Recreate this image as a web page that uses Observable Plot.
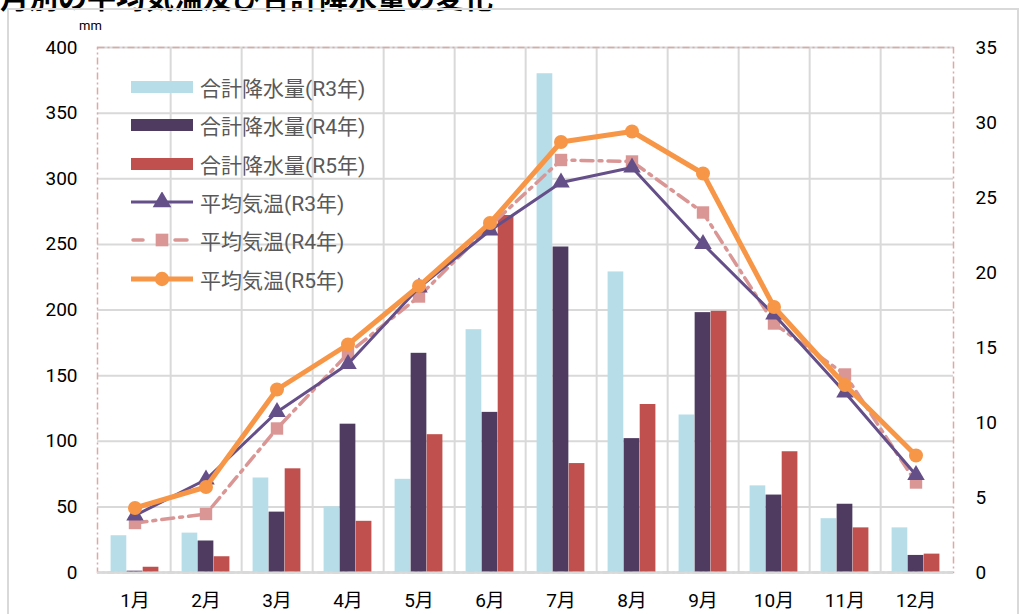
<!DOCTYPE html>
<html><head><meta charset="utf-8">
<script src="https://cdn.jsdelivr.net/npm/d3@7"></script>
<script src="https://cdn.jsdelivr.net/npm/@observablehq/plot@0.6"></script>
<style>
html,body{margin:0;padding:0;background:#fff;width:1023px;height:614px;overflow:hidden;font-family:Roboto,"Noto Sans CJK JP",sans-serif;}
#wrap{position:relative;width:1023px;height:614px;}
#title{position:absolute;left:0;top:-18px;font-size:29px;font-weight:bold;color:#000;white-space:nowrap;font-family:"Noto Sans CJK JP",sans-serif;line-height:1;}
#frame{position:absolute;left:7px;top:8px;width:1012px;height:640px;border:2px solid #d9d9d9;box-sizing:border-box;}
#chart{position:absolute;left:0;top:0;}
#unit{position:absolute;left:79px;top:18px;font-size:13px;line-height:15px;color:#000;}
#legend{position:absolute;left:131px;top:68px;}
.row{display:flex;align-items:center;height:38.3px;}
.row span{margin-left:7px;font-size:21px;color:#595959;font-family:Roboto,"Noto Sans CJK JP",sans-serif;white-space:nowrap;}
</style></head>
<body><div id="wrap">
<div id="title"></div>
<div id="frame"></div>
<div id="chart"></div>
<div id="unit">mm</div>
<div id="legend"></div>
</div>
<script>
const titleText = "月別の平均気温及び合計降水量の変化";
const months = ["1月","2月","3月","4月","5月","6月","7月","8月","9月","10月","11月","12月"];
const rainR3 = [28, 30, 72, 50, 71, 185, 380, 229, 120, 66, 41, 34];
const rainR4 = [1, 24, 46, 113, 167, 122, 248, 102, 198, 59, 52, 13];
const rainR5 = [4, 12, 79, 39, 105, 272, 83, 128, 199, 92, 34, 14];
const tempR3 = [3.8, 6.2, 10.7, 13.9, 19.0, 22.8, 26.0, 27.0, 21.9, 17.2, 12.0, 6.5];
const tempR4 = [3.3, 3.9, 9.6, 14.6, 18.4, 23.1, 27.5, 27.4, 24.0, 16.6, 13.2, 6.0];
const tempR5 = [4.3, 5.7, 12.2, 15.2, 19.1, 23.3, 28.7, 29.4, 26.6, 17.7, 12.5, 7.8];
const rainTicks = [0, 50, 100, 150, 200, 250, 300, 350, 400];
const tempTicks = [0, 5, 10, 15, 20, 25, 30, 35];
const seriesNames = ["合計降水量(R3年)","合計降水量(R4年)","合計降水量(R5年)","平均気温(R3年)","平均気温(R4年)","平均気温(R5年)"];

const colors = {r3bar:"#b7dde8", r4bar:"#4f3a60", r5bar:"#c0504d", r3line:"#654f88", r4line:"#d99694", r5line:"#f79646"};
const rainMax = 400, tempMax = 35, k = rainMax / tempMax;

document.getElementById("title").textContent = titleText;

const W = 1023, H = 614, mL = 97, mR = 70, mT = 47, mB = 42;
const bw = (W - mL - mR) / months.length;
const barW = bw * 0.225;
const inset = (bw - barW) / 2;

const rain = (arr) => months.map((m, i) => ({month: m, v: arr[i]}));
const temp = (arr) => months.map((m, i) => ({month: m, v: arr[i] * k}));

const dashLine = "12 6 3 6";
const fontTick = 'Roboto, "Noto Sans CJK JP", sans-serif';

const plot = Plot.plot({
  width: W, height: H,
  marginLeft: mL, marginRight: mR, marginTop: mT, marginBottom: mB,
  style: {fontFamily: fontTick, background: "transparent", overflow: "visible"},
  x: {type: "band", domain: months, padding: 0},
  y: {domain: [0, rainMax]},
  marks: [
    Plot.gridY(rainTicks, {stroke: "#d9d9d9", strokeOpacity: 1, strokeWidth: 2}),
    Plot.ruleX(months.slice(0, -1), {x: d => d, dx: bw / 2, stroke: "#d9d9d9", strokeWidth: 2}),
    Plot.ruleY([0], {stroke: "#d9d9d9", strokeWidth: 2}),
    Plot.barY(rain(rainR3), {x: "month", y: "v", fill: colors.r3bar, insetLeft: inset, insetRight: inset, dx: -barW}),
    Plot.barY(rain(rainR4), {x: "month", y: "v", fill: colors.r4bar, insetLeft: inset, insetRight: inset}),
    Plot.barY(rain(rainR5), {x: "month", y: "v", fill: colors.r5bar, insetLeft: inset, insetRight: inset, dx: barW}),
    Plot.frame({stroke: "#e2a6a6", strokeWidth: 1.5, strokeDasharray: "7 3 2 3"}),
    Plot.ruleY([0], {stroke: "#d9d9d9", strokeWidth: 2}),
    Plot.lineY(temp(tempR4), {x: "month", y: "v", stroke: colors.r4line, strokeWidth: 3.5, strokeDasharray: dashLine}),
    Plot.dot(temp(tempR4), {x: "month", y: "v", symbol: "square", r: 7, fill: colors.r4line, stroke: "none"}),
    Plot.lineY(temp(tempR3), {x: "month", y: "v", stroke: colors.r3line, strokeWidth: 3}),
    Plot.dot(temp(tempR3), {x: "month", y: "v", symbol: "triangle", r: 6.5, fill: colors.r3line, stroke: "none"}),
    Plot.lineY(temp(tempR5), {x: "month", y: "v", stroke: colors.r5line, strokeWidth: 5}),
    Plot.dot(temp(tempR5), {x: "month", y: "v", symbol: "circle", r: 7, fill: colors.r5line, stroke: "none"}),
    Plot.axisY({anchor: "left", ticks: rainTicks, tickSize: 0, tickPadding: 20, fontSize: 19, label: null, fill: "#000"}),
    Plot.axisY({anchor: "right", ticks: tempTicks.map(t => t * k), tickFormat: d => String(Math.round(d / k)), tickSize: 0, tickPadding: 22, fontSize: 19, label: null, fill: "#000"}),
    Plot.axisX({tickSize: 0, tickPadding: 21, fontSize: 19, label: null, fill: "#000"})
  ]
});
document.getElementById("chart").appendChild(plot);

// legend
const lg = document.getElementById("legend");
const sw = [
  {type: "bar", color: colors.r3bar},
  {type: "bar", color: colors.r4bar},
  {type: "bar", color: colors.r5bar},
  {type: "line", color: colors.r3line, sym: "triangle", w: 3},
  {type: "line", color: colors.r4line, sym: "square", w: 3.5, dash: true},
  {type: "line", color: colors.r5line, sym: "circle", w: 5}
];
seriesNames.forEach((name, i) => {
  const s = sw[i];
  const row = document.createElement("div");
  row.className = "row";
  const svg = d3.create("svg").attr("width", 62).attr("height", 20);
  if (s.type === "bar") {
    svg.append("rect").attr("x", 0).attr("y", 4).attr("width", 62).attr("height", 12).attr("fill", s.color);
  } else {
    const l = svg.append("line").attr("x1", 0).attr("x2", 62).attr("y1", 10).attr("y2", 10).attr("stroke", s.color).attr("stroke-width", s.w).attr("stroke-linecap", "round");
    if (s.dash) l.attr("x1", 2).attr("x2", 56).attr("stroke-dasharray", "10 44");
    if (s.dash) svg.append("line").attr("x1", 44).attr("x2", 56).attr("y1", 10).attr("y2", 10).attr("stroke", s.color).attr("stroke-width", s.w).attr("stroke-linecap", "round");
    const sym = {triangle: d3.symbolTriangle, square: d3.symbolSquare, circle: d3.symbolCircle}[s.sym];
    const size = s.sym === "triangle" ? 150 : 160;
    svg.append("path").attr("transform", "translate(31,10)").attr("d", d3.symbol(sym, size)()).attr("fill", s.color);
  }
  row.appendChild(svg.node());
  const t = document.createElement("span");
  t.textContent = name;
  row.appendChild(t);
  lg.appendChild(row);
});
</script>
</body></html>
